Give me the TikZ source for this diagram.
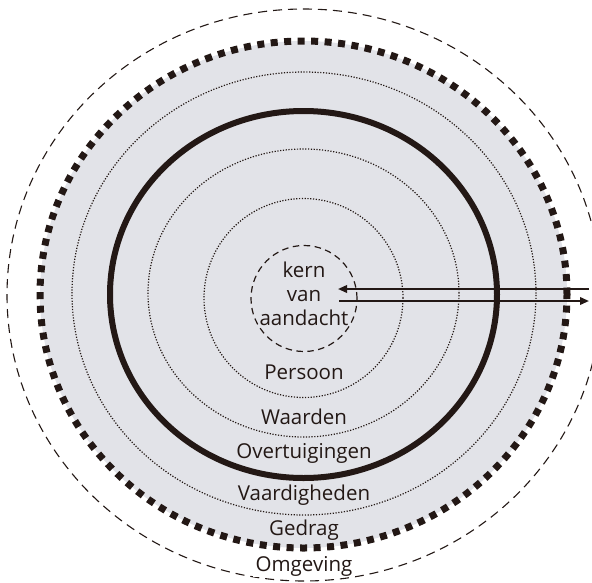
\documentclass[tikz,border=0pt]{standalone}
\usepackage{fontspec}
\setmainfont{Open Sans}
\usetikzlibrary{arrows.meta}
\definecolor{ink}{RGB}{35,24,21}
\definecolor{areagrey}{RGB}{226,227,232}
\begin{document}
\begin{tikzpicture}[x=1pt,y=-1pt,
  ring/.style={draw=ink},
  finedots/.style={ring,line width=1.2pt,dash pattern=on 1.2pt off 1.6pt},
  blockdots/.style={ring,line width=7pt,dash pattern=on 7pt off 6.5pt},
  thinDash/.style={ring,line width=1.1pt,dash pattern=on 9pt off 6pt},
  lbl/.style={text=ink,font=\fontsize{20.5}{24}\selectfont,inner sep=1pt},
  flow/.style={draw=ink,line width=2pt,-{Triangle[length=9pt,width=7.5pt]}}]
\useasboundingbox (0,0) rectangle (592,582);
\begin{scope}
\clip (0,0) rectangle (592,582);
% outer environment boundary
\draw[thinDash] (304,295) ellipse [x radius=297pt,y radius=286pt];
% grey behaviour area with its heavy dotted rim
\fill[areagrey] (303.5,294.5) ellipse [x radius=263.5pt,y radius=253.5pt];
\draw[blockdots] (303.5,294.5) ellipse [x radius=263.5pt,y radius=253.5pt];
% skills
\draw[finedots] (304,293.5) ellipse [x radius=232pt,y radius=221.5pt];
% beliefs (heavy ring)
\draw[ring,line width=6pt] (303.5,294.5) ellipse [x radius=193.5pt,y radius=183.5pt];
% values
\draw[finedots] (303.5,293) ellipse [x radius=155.5pt,y radius=144pt];
% person
\draw[finedots] (303.5,298) ellipse [x radius=99.5pt,y radius=99.5pt];
\end{scope}
% core
\node[circle,draw=ink,line width=1.2pt,dash pattern=on 6.5pt off 4.5pt,
      minimum size=106pt,inner sep=0pt] (kern) at (304,298.5) {};
\node[lbl,align=center] (kerntxt) at (304,294) {kern\\van\\aandacht};
% labels of the layers
\node[lbl] (persoon) at (304,372) {Persoon};
\node[lbl] (waarden) at (304,417) {Waarden};
\node[lbl] (overt) at (304,453) {Overtuigingen};
\node[lbl] (vaard) at (304,495) {Vaardigheden};
\node[lbl] (gedrag) at (304,530) {Gedrag};
\node[lbl,fill=white,inner xsep=3pt] (omg) at (304,566) {Omgeving};
% exchange between the core and the outside
\coordinate (inStart) at (589,289);
\coordinate (inEnd) at (338,289);
\coordinate (outStart) at (339,301);
\coordinate (outEnd) at (589,301);
\draw[flow] (inStart) -- (inEnd);
\draw[flow] (outStart) -- (outEnd);
\end{tikzpicture}
\end{document}
